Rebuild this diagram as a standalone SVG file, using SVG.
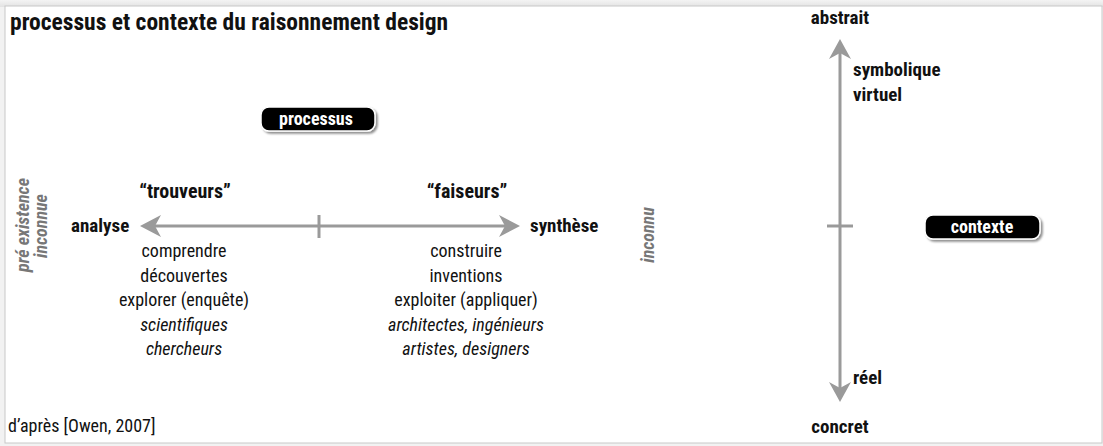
<svg xmlns="http://www.w3.org/2000/svg" width="1103" height="446" viewBox="0 0 1103 446">
<defs>
<linearGradient id="topsh" x1="0" y1="0" x2="0" y2="1"><stop offset="0" stop-color="#f4f4f4"/><stop offset="1" stop-color="#e2e2e2"/></linearGradient>
<filter id="ds" x="-10%" y="-30%" width="130%" height="180%"><feDropShadow dx="2" dy="2" stdDeviation="1.2" flood-color="#000" flood-opacity="0.45"/></filter>
</defs>
<style>
text{font-family:"Liberation Sans Narrow","Roboto Condensed","DejaVu Sans Condensed","Liberation Sans",sans-serif;fill:#111;font-stretch:condensed}
.t{font-size:23.5px;font-weight:bold}
.n{font-size:18px}
.l{font-size:19px;font-weight:bold}
.q{font-size:20px;font-weight:bold}
.i{font-style:italic}
.g{fill:#777;font-weight:bold;font-style:italic;font-size:18px}
.pill{fill:#000;stroke:#fff;stroke-width:1.5}
.pt{fill:#fff;font-weight:bold;font-size:18px}
.ax{stroke:#9a9a9a;stroke-width:3;fill:none}
.ah{fill:#9a9a9a}
.c{text-anchor:middle}
</style>
<rect width="1103" height="446" fill="#f2f2f2"/>
<rect x="0" y="0" width="1103" height="7" fill="url(#topsh)"/>
<rect x="5" y="6" width="1097" height="437" fill="#fff" stroke="#c8c8c8" stroke-width="1"/>
<text id="title" class="t" x="10" y="30">processus et contexte du raisonnement design</text>
<g id="connectors">
<line class="ax" x1="150" y1="226" x2="510" y2="226"/>
<line class="ax" x1="319" y1="215" x2="319" y2="238"/>
<polygon class="ah" points="140,226 161,215 155,226 161,237"/>
<polygon class="ah" points="520,226 499,215 505,226 499,237"/>
<line class="ax" x1="840" y1="50" x2="840" y2="392"/>
<line class="ax" x1="827" y1="226" x2="853" y2="226"/>
<polygon class="ah" points="840,39 829,59 840,53 851,59"/>
<polygon class="ah" points="840,402 829,382 840,388 851,382"/>
</g>
<g id="processus">
<rect class="pill" x="261" y="107" width="114" height="24" rx="8" filter="url(#ds)"/>
<text class="pt c" x="316" y="125">processus</text>
</g>
<g id="contexte">
<rect class="pill" x="925" y="215" width="115" height="24" rx="8" filter="url(#ds)"/>
<text class="pt c" x="982" y="233">contexte</text>
</g>
<g id="analyse">
<text class="l" x="71" y="232">analyse</text>
</g>
<g id="synthese">
<text class="l" x="530" y="232">synthèse</text>
</g>
<g id="trouveurs">
<text class="q c" x="185" y="198">“trouveurs”</text>
<text class="n c" x="184" y="257">comprendre</text>
<text class="n c" x="184" y="282">découvertes</text>
<text class="n c" x="184" y="306">explorer (enquête)</text>
<text class="n c i" x="184" y="331">scientifiques</text>
<text class="n c i" x="184" y="355">chercheurs</text>
</g>
<g id="faiseurs">
<text class="q c" x="467" y="198">“faiseurs”</text>
<text class="n c" x="466" y="257">construire</text>
<text class="n c" x="466" y="282">inventions</text>
<text class="n c" x="466" y="306">exploiter (appliquer)</text>
<text class="n c i" x="466" y="331">architectes, ingénieurs</text>
<text class="n c i" x="466" y="355">artistes, designers</text>
</g>
<g id="preexistence">
<text class="g c" transform="translate(29,225) rotate(-90)">pré existence</text>
<text class="g c" transform="translate(47,226) rotate(-90)">inconnue</text>
</g>
<g id="inconnu">
<text class="g c" transform="translate(654,235) rotate(-90)">inconnu</text>
</g>
<g id="abstrait">
<text class="l c" x="840" y="24">abstrait</text>
<text class="l" x="853" y="76">symbolique</text>
<text class="l" x="853" y="101">virtuel</text>
</g>
<g id="concret">
<text class="l" x="853" y="384">réel</text>
<text class="l c" x="840" y="433">concret</text>
</g>
<text id="source" class="n" x="8" y="432">d’après [Owen, 2007]</text>
</svg>
